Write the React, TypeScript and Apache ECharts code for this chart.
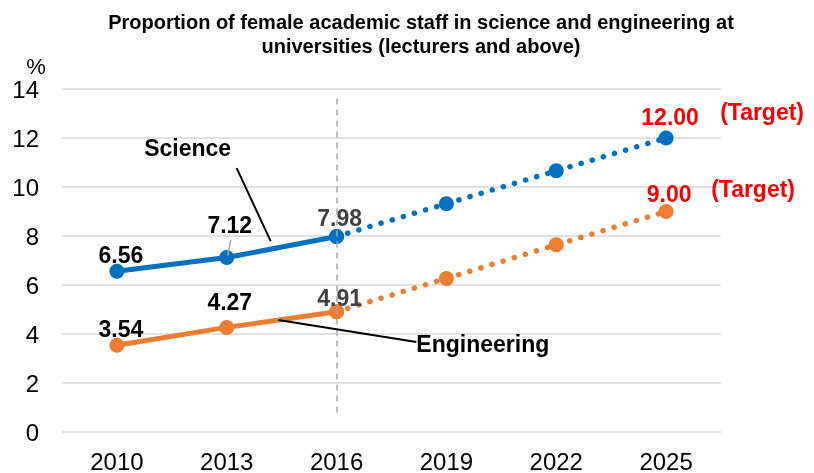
import React, { useEffect, useRef } from "react";
import * as echarts from "echarts";

const years = ["2010", "2013", "2016", "2019", "2022", "2025"];
const scienceActual = [6.56, 7.12, 7.98, null, null, null];
const scienceTarget = [null, null, 7.98, 9.32, 10.66, 12.0];
const engActual = [3.54, 4.27, 4.91, null, null, null];
const engTarget = [null, null, 4.91, 6.27, 7.64, 9.0];
const yTicks = { min: 0, max: 14, interval: 2 };

const BLUE = "#0070C0";
const ORANGE = "#ED7D31";
const RED = "#FF0000";
const FONT = "'Liberation Sans', Arial, sans-serif";

type LabelCfg = { offset: [number, number]; color: string };

function buildData(vals: (number | null)[], labels: Record<number, LabelCfg>) {
  return vals.map((v, i) => {
    if (v === null) return "-";
    const l = labels[i];
    if (!l) return { value: v, label: { show: false } };
    return {
      value: v,
      label: {
        show: true,
        position: "inside",
        offset: l.offset,
        color: l.color,
        fontSize: 23,
        fontWeight: "bold",
        fontFamily: FONT,
        formatter: (p: any) => Number(p.value).toFixed(2),
      },
    };
  });
}

export default function App() {
  const ref = useRef<HTMLDivElement>(null);
  useEffect(() => {
    if (!ref.current) return;
    const chart = echarts.init(ref.current, undefined, { renderer: "svg" });
    const lineBase = {
      type: "line",
      symbol: "circle",
      symbolSize: 15,
      connectNulls: false,
      z: 3,
    };
    const option: any = {
      animation: false,
      title: {
        text: "Proportion of female academic staff in science and engineering at\nuniversities (lecturers and above)",
        left: 421,
        top: 10,
        textAlign: "center",
        padding: 0,
        textStyle: {
          fontSize: 20,
          fontWeight: "bold",
          color: "#000",
          fontFamily: FONT,
          lineHeight: 24,
        },
      },
      grid: { left: 62, right: 93, top: 89, bottom: 41, containLabel: false },
      xAxis: {
        type: "category",
        data: years,
        boundaryGap: true,
        axisLine: { show: false },
        axisTick: { show: false },
        axisLabel: { fontSize: 24, color: "#000", fontFamily: FONT, margin: 17 },
        splitLine: { show: false },
      },
      yAxis: {
        type: "value",
        min: yTicks.min,
        max: yTicks.max,
        interval: yTicks.interval,
        axisLine: { show: false },
        axisTick: { show: false },
        axisLabel: { fontSize: 24, color: "#000", fontFamily: FONT, margin: 23 },
        splitLine: { lineStyle: { color: "#d9d9d9", width: 1.5 } },
      },
      series: [
        {
          type: "line",
          data: years.map(() => "-"),
          z: 1,
          markLine: {
            silent: true,
            symbol: "none",
            label: { show: false },
            lineStyle: { color: "#a6a6a6", type: [6, 5], width: 1.5 },
            data: [[{ coord: [2, 0.8] }, { coord: [2, 13.7] }]],
          },
        },
        {
          ...lineBase,
          name: "Science target",
          data: buildData(scienceTarget, {
            5: { offset: [4, -21], color: RED },
          }),
          itemStyle: { color: BLUE },
          lineStyle: { color: BLUE, width: 5.5, type: [0.1, 11.5], cap: "round" },
        },
        {
          ...lineBase,
          name: "Engineering target",
          data: buildData(engTarget, {
            5: { offset: [3, -18], color: RED },
          }),
          itemStyle: { color: ORANGE },
          lineStyle: { color: ORANGE, width: 5.5, type: [0.1, 11.5], cap: "round" },
        },
        {
          ...lineBase,
          name: "Science",
          data: buildData(scienceActual, {
            0: { offset: [4, -16], color: "#000" },
            1: { offset: [3, -33], color: "#000" },
            2: { offset: [3, -18], color: "#404040" },
          }),
          itemStyle: { color: BLUE },
          lineStyle: { color: BLUE, width: 5 },
          z: 4,
        },
        {
          ...lineBase,
          name: "Engineering",
          data: buildData(engActual, {
            0: { offset: [4, -16], color: "#000" },
            1: { offset: [3, -25], color: "#000" },
            2: { offset: [3, -14], color: "#404040" },
          }),
          itemStyle: { color: ORANGE },
          lineStyle: { color: ORANGE, width: 5 },
          z: 4,
        },
      ],
    };
    chart.setOption(option);

    const px = (i: number, v: number) =>
      chart.convertToPixel({ xAxisIndex: 0, yAxisIndex: 0 }, [i, v]) as number[];
    const lerp = (a: number[], b: number[], t: number) => [
      a[0] + (b[0] - a[0]) * t,
      a[1] + (b[1] - a[1]) * t,
    ];
    const s1 = px(1, scienceActual[1] as number);
    const s2 = px(2, scienceActual[2] as number);
    const sAnchor = lerp(s1, s2, 0.4);
    const e1 = px(1, engActual[1] as number);
    const e2 = px(2, engActual[2] as number);
    const eAnchor = lerp(e1, e2, 0.47);
    const sT = px(5, scienceTarget[5] as number);
    const eT = px(5, engTarget[5] as number);

    const txt = (text: string, x: number, y: number, color: string, align = "center") => ({
      type: "text",
      x,
      y,
      z: 10,
      style: {
        text,
        fill: color,
        fontSize: 23,
        fontWeight: "bold",
        fontFamily: FONT,
        align,
        verticalAlign: "middle",
      },
    });
    const ln = (a: number[], b: number[], color: string, width: number) => ({
      type: "line",
      z: 9,
      shape: { x1: a[0], y1: a[1], x2: b[0], y2: b[1] },
      style: { stroke: color, lineWidth: width },
    });

    chart.setOption({
      graphic: [
        {
          type: "text",
          x: 36,
          y: 66,
          style: {
            text: "%",
            fill: "#000",
            fontSize: 22,
            fontFamily: FONT,
            align: "center",
            verticalAlign: "middle",
          },
        },
        txt("Science", sAnchor[0] - 83, sAnchor[1] - 101, "#000"),
        ln([sAnchor[0] - 34, sAnchor[1] - 81], [sAnchor[0], sAnchor[1] - 8], "#000", 2),
        txt("Engineering", eAnchor[0] + 138, eAnchor[1] + 24, "#000", "left"),
        ln([eAnchor[0], eAnchor[1]], [eAnchor[0] + 138, eAnchor[1] + 22], "#000", 2),
        ln([s1[0] + 4, s1[1] - 18], [s1[0] + 1, s1[1] - 2], "#a6a6a6", 1.5),
        txt("(Target)", sT[0] + 96, sT[1] - 26, RED),
        txt("(Target)", eT[0] + 87, eT[1] - 23, RED),
      ],
    });

    return () => chart.dispose();
  }, []);
  return (
    <div
      ref={ref}
      style={{ position: "fixed", left: 0, top: 0, width: 814, height: 473 }}
    />
  );
}
